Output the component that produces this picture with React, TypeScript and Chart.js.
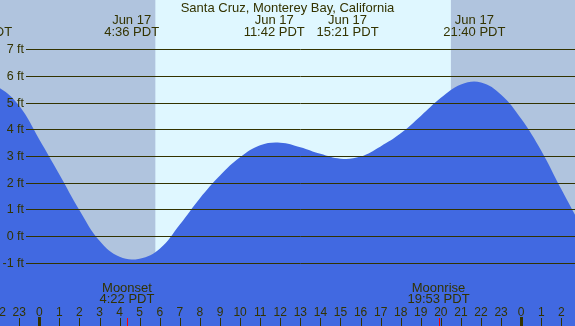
import React, { useEffect, useRef } from "react";
import { Chart, registerables } from "chart.js";

Chart.register(...registerables);

const TITLE = "Santa Cruz, Monterey Bay, California";

// Tide height (feet) at each hour of Jun 17 (PDT)
const tideHours = [
  -3, -2, -1, 0, 1, 2, 3, 4, 5, 6, 7, 8, 9, 10, 11, 12, 13, 14, 15, 16, 17, 18, 19, 20,
  21, 22, 23, 24, 25, 26, 27,
];
const tideFeet = [
  5.78, 5.56, 4.88, 3.62, 2.31, 0.97, -0.18, -0.78, -0.85, -0.48, 0.43, 1.42, 2.27, 2.95,
  3.4, 3.5, 3.33, 3.08, 2.9, 2.98, 3.36, 3.85, 4.5, 5.18, 5.68, 5.76, 5.3, 4.4, 3.2, 1.75,
  0.35,
];

const heightTicks = [-1, 0, 1, 2, 3, 4, 5, 6, 7];
const hourTickValues = [
  -2, -1, 0, 1, 2, 3, 4, 5, 6, 7, 8, 9, 10, 11, 12, 13, 14, 15, 16, 17, 18, 19, 20, 21, 22, 23, 24, 25, 26,
];
const hourTickLabels = [
  "22", "23", "0", "1", "2", "3", "4", "5", "6", "7", "8", "9", "10", "11", "12", "13", "14",
  "15", "16", "17", "18", "19", "20", "21", "22", "23", "0", "1", "2",
];
const midnightHours = [0, 24];

const extremeHours = [-2.9, 4.6, 11.7, 15.35, 21.667];
const extremeDates = ["Jun 16", "Jun 17", "Jun 17", "Jun 17", "Jun 17"];
const extremeTimes = ["21:05 PDT", "4:36 PDT", "11:42 PDT", "15:21 PDT", "21:40 PDT"];

const moonHours = [4.367, 19.883];
const moonNames = ["Moonset", "Moonrise"];
const moonTimes = ["4:22 PDT", "19:53 PDT"];

const sunriseHour = 5.78;
const sunsetHour = 20.5;

const X_MIN = -1.957;
const X_MAX = 26.68;
const Y_MIN = -3.375;
const Y_MAX = 8.85;

const NIGHT = "#b0c4de";
const DAY = "#dff7ff";
const WATER = "#4169e1";
const INK = "#333300";
const FAMILY = "'Liberation Sans', Arial, sans-serif";

const tidePlugin = {
  id: "tideDecor",
  beforeDraw(chart: any) {
    const { ctx, chartArea: a, scales } = chart;
    const xs = scales.x;
    ctx.save();
    ctx.fillStyle = NIGHT;
    ctx.fillRect(a.left, a.top, a.right - a.left, a.bottom - a.top);
    const x0 = xs.getPixelForValue(sunriseHour);
    const x1 = xs.getPixelForValue(sunsetHour);
    ctx.fillStyle = DAY;
    ctx.fillRect(x0, a.top, x1 - x0, a.bottom - a.top);
    ctx.restore();
  },
  afterDatasetsDraw(chart: any) {
    const { ctx, chartArea: a, scales } = chart;
    const xs = scales.x;
    const ys = scales.y;
    ctx.save();
    ctx.fillStyle = INK;
    ctx.strokeStyle = INK;
    ctx.lineWidth = 1;

    // height lines and labels
    ctx.font = "12.5px " + FAMILY;
    heightTicks.forEach((v) => {
      const y = Math.round(ys.getPixelForValue(v)) + 0.5;
      ctx.beginPath();
      ctx.moveTo(26, y);
      ctx.lineTo(a.right, y);
      ctx.stroke();
      ctx.textAlign = "right";
      ctx.textBaseline = "middle";
      ctx.fillText(v + " ft", 24, y);
    });

    // hour labels and ticks
    ctx.font = "12px " + FAMILY;
    ctx.textAlign = "center";
    ctx.textBaseline = "alphabetic";
    hourTickValues.forEach((h, i) => {
      const x = xs.getPixelForValue(h);
      ctx.fillText(hourTickLabels[i], x, 316);
      const px = Math.round(x) + 0.5;
      ctx.beginPath();
      ctx.moveTo(px, 318);
      ctx.lineTo(px, a.bottom);
      ctx.stroke();
    });
    midnightHours.forEach((h) => {
      const x = xs.getPixelForValue(h);
      ctx.fillRect(Math.round(x) - 1, 317, 3, a.bottom - 317);
    });
    ctx.strokeStyle = "#ff0000";
    moonHours.forEach((h) => {
      const px = Math.round(xs.getPixelForValue(h)) + 0.5;
      ctx.beginPath();
      ctx.moveTo(px, 318);
      ctx.lineTo(px, a.bottom);
      ctx.stroke();
    });

    // moon texts
    ctx.font = "13px " + FAMILY;
    moonHours.forEach((h, i) => {
      const x = xs.getPixelForValue(h);
      ctx.fillText(moonNames[i], x, 291.5);
      ctx.fillText(moonTimes[i], x, 303);
    });

    // extremes texts
    extremeHours.forEach((h, i) => {
      const x = xs.getPixelForValue(h);
      ctx.fillText(extremeDates[i], x, 24);
      ctx.fillText(extremeTimes[i], x, 35.5);
    });

    // title
    ctx.fillText(TITLE, (a.left + a.right) / 2, 11.5);
    ctx.restore();
  },
};

export default function App() {
  const ref = useRef<HTMLCanvasElement | null>(null);
  useEffect(() => {
    document.body.style.margin = "0";
    const canvas = ref.current;
    if (!canvas) return;
    const chart = new Chart(canvas, {
      type: "line",
      data: {
        datasets: [
          {
            data: tideHours.map((h, i) => ({ x: h, y: tideFeet[i] })),
            fill: "start",
            backgroundColor: WATER,
            borderWidth: 0,
            borderColor: WATER,
            pointRadius: 0,
            tension: 0.4,
          },
        ],
      },
      options: {
        responsive: false,
        animation: false,
        events: [],
        layout: { padding: 0 },
        plugins: { legend: { display: false }, title: { display: false }, tooltip: { enabled: false } },
        scales: {
          x: { type: "linear", min: X_MIN, max: X_MAX, display: false },
          y: { type: "linear", min: Y_MIN, max: Y_MAX, display: false },
        },
      },
      plugins: [tidePlugin],
    });
    return () => chart.destroy();
  }, []);
  return (
    <div style={{ width: 575, height: 326 }}>
      <canvas ref={ref} width={575} height={326} style={{ display: "block" }} />
    </div>
  );
}
